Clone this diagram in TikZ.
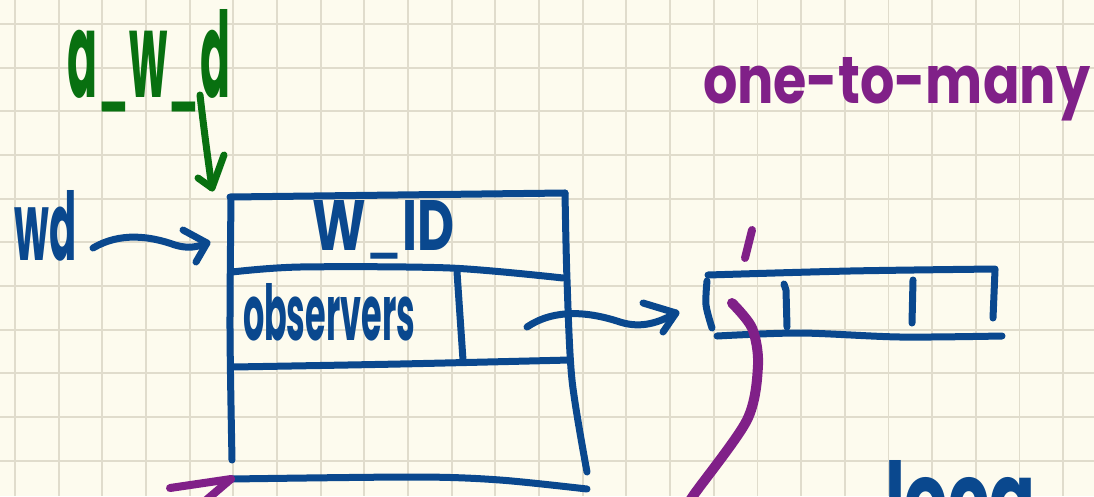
\documentclass[tikz,border=0pt]{standalone}
\usepackage{fontspec}
\setmainfont{Poppins}
\usetikzlibrary{calc}
\definecolor{paper}{RGB}{253,251,238}
\definecolor{gridc}{RGB}{224,220,204}
\definecolor{inkblue}{RGB}{10,72,142}
\definecolor{inkgreen}{RGB}{8,112,16}
\definecolor{inkpurple}{RGB}{128,32,136}
\newcommand{\thinus}{{\mdseries\_}}
\tikzset{
  pen/.style={line width=7pt, line cap=round, line join=round, draw=inkblue},
  gpen/.style={line width=7pt, line cap=round, line join=round, draw=inkgreen},
  ppen/.style={line width=8pt, line cap=round, line join=round, draw=inkpurple},
  gridline/.style={line width=1.8pt, draw=gridc},
  hand/.style={inner sep=0pt, outer sep=0pt, anchor=base west, font=\bfseries},
}
\begin{document}
\begin{tikzpicture}[x=1pt,y=-1pt]
\useasboundingbox (0,0) rectangle (1094,496);
\begin{scope}
\clip (0,0) rectangle (1094,496);
\fill[paper] (0,0) rectangle (1094,496);
\foreach \i in {0,...,24} \draw[gridline] ({15+43.67*\i},0) -- ({15+43.67*\i},496);
\foreach \j in {0,...,10} \draw[gridline] (0,{24+43.67*\j}) -- (1094,{24+43.67*\j});

% main record box
\coordinate (boxTL) at (230,197);
\coordinate (boxBL) at (231,479);
\draw[pen] (boxTL) -- (565,193);
\draw[pen] plot[smooth] coordinates {(231,199) (230,330) (232,460)};
\draw[pen] plot[smooth] coordinates {(565,193) (567,280) (572,380) (587,472)};
\draw[pen] plot[smooth] coordinates {(232,272) (300,267) (450,268) (563,278)};
\draw[pen] (457,272) -- (463,360);
\draw[pen] plot[smooth] coordinates {(233,367) (400,364) (570,360)};
\draw[pen] plot[smooth] coordinates {(boxBL) (417,477) (500,480) (587,489)};
\coordinate (cellR) at (527,327);

% array
\coordinate (arrL) at (706,305);
\draw[pen] plot[smooth] coordinates {(708,275) (850,271) (995,269)};
\draw[pen] plot[smooth] coordinates {(707,281) (706,305) (712,328)};
\draw[pen] plot[smooth] coordinates {(717,336) (800,333) (900,337) (1002,336)};
\draw[pen] (995,270) -- (993,318);
\draw[pen] (784,284) -- (786,290) -- (787,327);
\draw[pen] (913,280) -- (912,323);

% texts
\node[hand] (awd) at (67,97) {\resizebox{163pt}{88pt}{\color{inkgreen}a\thinus w\thinus d}};
\node[hand] (wd) at (15,260) {\resizebox{62pt}{70pt}{\color{inkblue}wd}};
\node[hand] (wid) at (312,250) {\resizebox{143pt}{50pt}{\color{inkblue}W\thinus ID}};
\node[hand] (obs) at (243,340) {\resizebox{172pt}{57pt}{\color{inkblue}observers}};
\node[hand] (otm) at (703,103) {\resizebox{387pt}{46pt}{\color{inkpurple}one-to-many}};
\node[hand] (loca) at (885,532) {\resizebox{150pt}{72pt}{\color{inkblue}loca}};

% arrows
\coordinate (wdtip) at (207,243);
\draw[pen] (93,248) .. controls (120,232) and (150,236) .. (175,245) .. controls (188,249) and (198,247) .. (wdtip);
\draw[pen] (183,230) -- (wdtip) -- (196,262);

\coordinate (gtip) at (212,188);
\draw[gpen] (200,95) .. controls (204,130) and (208,160) .. (gtip);
\draw[gpen] (198,178) -- (gtip) -- (224,155);

\coordinate (otip) at (676,313);
\draw[pen] (cellR) .. controls (555,308) and (590,312) .. (620,322) .. controls (642,329) and (660,322) .. (otip);
\draw[pen] (643,303) -- (otip) -- (663,332);

% purple marks
\draw[ppen] (752,230) -- (745,258);
\draw[ppen, line width=10pt] plot[smooth] coordinates {(732,303) (752,328) (758,365) (747,420) (693,496) (686,510)};
\draw[ppen] (170,488) -- (boxBL);
\draw[ppen] (boxBL) -- (204,502);
\end{scope}
\end{tikzpicture}
\end{document}
